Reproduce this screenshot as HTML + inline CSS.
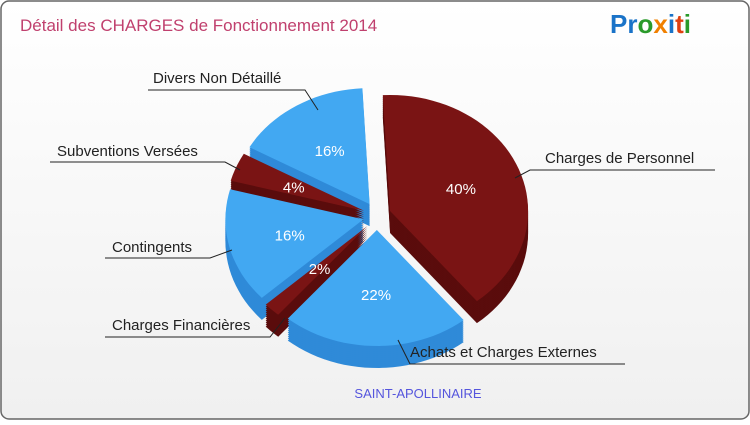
<!DOCTYPE html>
<html><head><meta charset="utf-8"><style>
body{margin:0;width:750px;height:420px;overflow:hidden;background:#fff;font-family:"Liberation Sans",sans-serif}
</style></head><body>
<svg id="c" width="750" height="420" viewBox="0 0 750 420">
<defs><linearGradient id="bg" x1="0" y1="0" x2="0" y2="1"><stop offset="0" stop-color="#ffffff"/><stop offset="1" stop-color="#f0f0f0"/></linearGradient></defs>
<rect x="1" y="1" width="748" height="418" rx="8" fill="url(#bg)" stroke="#666" stroke-width="1.5"/>
<text x="20" y="31" font-size="17" fill="#c0406e">Détail des CHARGES de Fonctionnement 2014</text>
<text x="610" y="33" font-size="26" font-weight="bold"><tspan fill="#1a73c8">Pr</tspan><tspan fill="#2a9a2a">o</tspan><tspan fill="#f08000">x</tspan><tspan fill="#1a73c8">i</tspan><tspan fill="#e04010">t</tspan><tspan fill="#2a9a2a">i</tspan></text>
<text x="418" y="398" font-size="13" fill="#5555dd" text-anchor="middle">SAINT-APOLLINAIRE</text>
<g id="pie"></g>
<g id="labels"></g>
</svg>
<script>
const categories=["Charges de Personnel","Achats et Charges Externes","Charges Financières","Contingents","Subventions Versées","Divers Non Détaillé"];
const values=[40,22,2,16,4,16];
const pctLabels=["40%","22%","2%","16%","4%","16%"];
const colors=["#7a1414","#42a8f2","#7a1414","#42a8f2","#7a1414","#42a8f2"];
const sides=["#5a0c0c","#2f8ad8","#5a0c0c","#2f8ad8","#5a0c0c","#2f8ad8"];
const cx=377,cy=216,rx=138,ry=116,depth=22,explode=14;
const NS="http://www.w3.org/2000/svg";
const pie=document.getElementById('pie'),lab=document.getElementById('labels');
const total=values.reduce((a,b)=>a+b,0);
function pt(x,y,t){const r=t*Math.PI/180;return [x+rx*Math.cos(r),y+ry*Math.sin(r)];}
function slicePath(x,y,a0,a1){
  let d=`M${x},${y}`;const n=Math.max(2,Math.ceil((a1-a0)/3));
  for(let i=0;i<=n;i++){const p=pt(x,y,a0+(a1-a0)*i/n);d+=`L${p[0].toFixed(1)},${p[1].toFixed(1)}`;}
  return d+'Z';
}
const slices=[];let a=-93;
values.forEach((v,i)=>{const s=v/total*360;const m=(a+s/2)*Math.PI/180;
  slices.push({a0:a,a1:a+s,ox:cx+explode*Math.cos(m),oy:cy+explode*Math.sin(m),mid:m});a+=s;});
for(let k=depth;k>0;k-=2){
  slices.forEach((s,i)=>{const p=document.createElementNS(NS,'path');
    p.setAttribute('d',slicePath(s.ox,s.oy+k,s.a0,s.a1));p.setAttribute('fill',sides[i]);
    
    
    pie.appendChild(p);});
}
slices.forEach((s,i)=>{const p=document.createElementNS(NS,'path');
  p.setAttribute('d',slicePath(s.ox,s.oy,s.a0,s.a1));p.setAttribute('fill',colors[i]);
  
  
  pie.appendChild(p);
  const f=i==2?0.5:0.55;
  const t=document.createElementNS(NS,'text');
  t.setAttribute('x',s.ox+rx*f*Math.cos(s.mid));t.setAttribute('y',s.oy+ry*f*Math.sin(s.mid)+6);
  t.setAttribute('text-anchor','middle');t.setAttribute('font-size','15');t.setAttribute('fill','#fff');
  t.textContent=pctLabels[i];
  
  
  lab.appendChild(t);
});
const callouts=[
 {tx:545,ty:163,x1:715,y1:170,x2:530,x3:515,y3:178},
 {tx:410,ty:357,x1:625,y1:364,x2:410,x3:398,y3:340},
 {tx:112,ty:330,x1:105,y1:337,x2:270,x3:285,y3:318},
 {tx:112,ty:252,x1:105,y1:258,x2:210,x3:232,y3:250},
 {tx:57,ty:156,x1:50,y1:162,x2:225,x3:240,y3:170},
 {tx:153,ty:83,x1:148,y1:90,x2:305,x3:318,y3:110}];
callouts.forEach((c,i)=>{
  const l=document.createElementNS(NS,'polyline');
  l.setAttribute('points',`${c.x1},${c.y1} ${c.x2},${c.y1} ${c.x3},${c.y3}`);
  l.setAttribute('fill','none');l.setAttribute('stroke','#222');l.setAttribute('stroke-width','1');
  
  
  lab.appendChild(l);
  const t=document.createElementNS(NS,'text');
  t.setAttribute('x',c.tx);t.setAttribute('y',c.ty);t.setAttribute('font-size','15');t.setAttribute('fill','#222');
  t.textContent=categories[i];
  
  
  lab.appendChild(t);
});
</script>
</body></html>
